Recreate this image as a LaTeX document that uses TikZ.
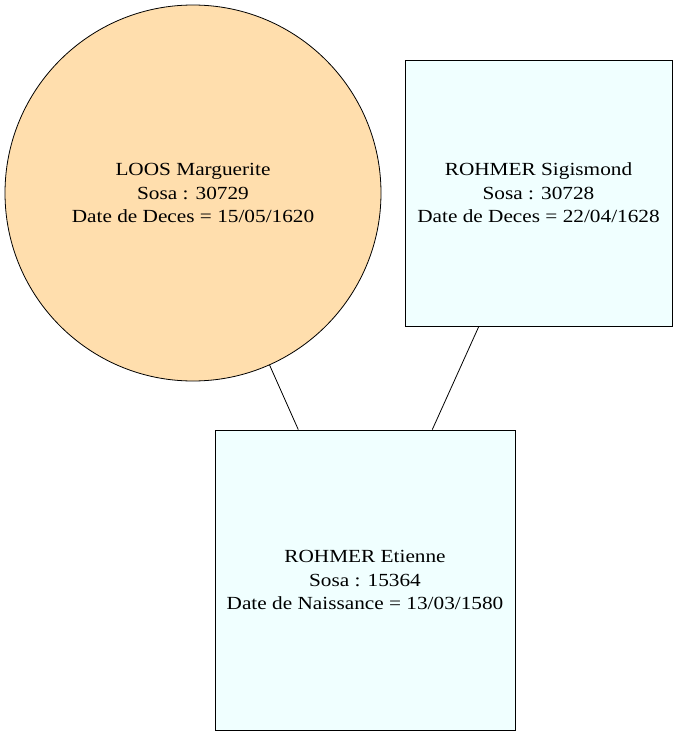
\documentclass[tikz,border=0pt]{standalone}
\usepackage{fontspec}
\setmainfont{Liberation Serif}[FakeStretch=1.15]
\definecolor{navaj}{HTML}{FFDEAD}
\definecolor{azur}{HTML}{F0FFFF}
\begin{document}
\begin{tikzpicture}[x=1pt,y=-1pt,
  person/.style={draw=black,line width=0.8pt,inner sep=0pt,align=center,
    font=\fontsize{18.5}{23.5}\selectfont},
  circ/.style={person,circle,fill=navaj,minimum size=376pt},
  boxx/.style={person,rectangle,fill=azur},
  link/.style={draw=black,line width=0.8pt}]
\useasboundingbox (0,0) rectangle (678,736);
\node[circ] (loos) at (193,193) {LOOS Marguerite\\Sosa : 30729\\Date de Deces = 15/05/1620};
\node[boxx,minimum width=267pt,minimum height=266pt] (sig) at (538.5,193) {ROHMER Sigismond\\Sosa : 30728\\Date de Deces = 22/04/1628};
\node[boxx,minimum width=300pt,minimum height=300pt] (eti) at (365,580) {ROHMER Etienne\\Sosa : 15364\\Date de Naissance = 13/03/1580};
\draw[link] (loos) -- (eti);
\draw[link] (sig) -- (eti);
\end{tikzpicture}
\end{document}
